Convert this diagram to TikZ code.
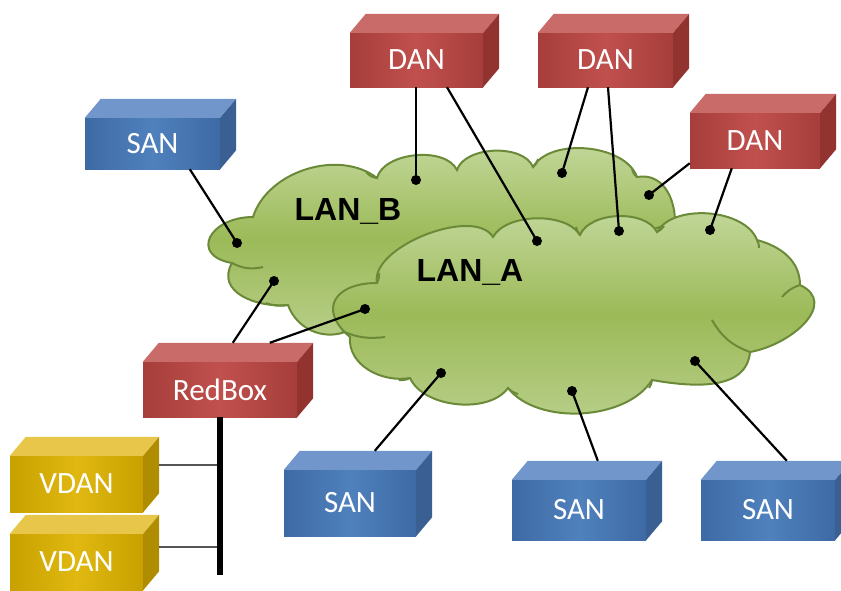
\documentclass[tikz,border=0pt]{standalone}
\usepackage{fontspec}
\setmainfont{Carlito}
\newfontfamily\arialf{Liberation Sans}
\usetikzlibrary{calc}
\definecolor{cloudT}{HTML}{C4D99E}
\definecolor{cloudM}{HTML}{9CBA58}
\definecolor{cloudB}{HTML}{B8CF8B}
\definecolor{cloudO}{HTML}{6B8A38}
\definecolor{redD}{HTML}{A63E3B}
\definecolor{redL}{HTML}{C0504D}
\definecolor{redT}{HTML}{C96C69}
\definecolor{redS}{HTML}{923330}
\definecolor{blueD}{HTML}{3E6AA4}
\definecolor{blueL}{HTML}{4F81BD}
\definecolor{blueT}{HTML}{7096CB}
\definecolor{blueS}{HTML}{3A6093}
\definecolor{yelD}{HTML}{C9A100}
\definecolor{yelL}{HTML}{E0B810}
\definecolor{yelT}{HTML}{E8C64A}
\definecolor{yelS}{HTML}{B08D00}
\definecolor{vgray}{HTML}{555555}
\newcommand\cubebox[7]{%
  \node[cubeface, minimum width=#4pt, minimum height=#5pt,
        left color=#6D, right color=#6D, middle color=#6L] (#1) at (#2,#3) {#7};
  \fill[#6T] (#1.north west) -- ++(16,-19) -- ([shift={(16pt,19pt)}]#1.north east) -- (#1.north east) -- cycle;
  \fill[#6S] (#1.north east) -- ([shift={(16pt,19pt)}]#1.north east) -- ([shift={(16pt,19pt)}]#1.south east) -- (#1.south east) -- cycle;
}
\begin{document}
\begin{tikzpicture}[x=1pt,y=-1pt,
  cloudfill/.style={draw=cloudO, line width=2pt, top color=cloudT, bottom color=cloudB, middle color=cloudM},
  deco/.style={draw=cloudO, line width=2pt},
  conn/.style={draw=black, line width=2.2pt},
  dot/.style={circle, fill=black, inner sep=0pt, minimum size=10pt},
  cubeface/.style={inner sep=0pt, text=white, font=\fontsize{31}{36}\selectfont},
  lanlabel/.style={font=\arialf\bfseries\fontsize{32}{38}\selectfont, text=black, inner sep=0pt},
  vline/.style={draw=vgray, line width=1.4pt},
  bus/.style={draw=black, line width=6.5pt}]
\useasboundingbox (0,0) rectangle (841,590);
\clip (0,0) rectangle (841,590);

% LAN_B cloud
\path[cloudfill] (232,263) to[out=170, in=180, looseness=2.2] (253,217)
  to[bend left=55, looseness=0.95] (377,178)
  to[bend left=70, looseness=0.85] (457,170)
  to[bend left=70, looseness=0.85] (533,167)
  to[bend left=65, looseness=0.85] (637,177)
  to[out=10, in=90, looseness=1.1] (675,222)
  -- (345,332)
  to[bend left=45] (288,305)
  to[out=185, in=240, looseness=1.2] cycle;
\draw[deco] (232,263) to[bend right=20] (263,267);
\draw[deco] (288,305) to[bend left=15] (266,303);
\draw[deco] (377,178) to[bend left=20] (366,172);
\draw[deco] (533,167) to[bend right=20] (538,159);
\draw[deco] (637,177) to[bend left=20] (632,169);

% LAN_A cloud
\path[cloudfill] (350,337) to[out=140, in=180, looseness=1.8] (377,283)
  to[bend left=80, looseness=0.75] (493,237)
  to[bend left=60, looseness=0.8] (580,235)
  to[bend left=65, looseness=0.85] (657,232)
  to[bend left=65, looseness=0.85] (757,240)
  to[out=-15, in=90, looseness=1] (800,285)
  to[out=-25, in=10, looseness=1.3] (750,352)
  to[out=-95, in=-10, looseness=1] (652,380)
  to[bend left=55, looseness=0.85] (508,388)
  to[bend left=60, looseness=0.85] (410,378)
  to[out=190, in=265, looseness=1] cycle;
\draw[deco] (342,331) to[bend right=15] (385,337);
\draw[deco] (750,352) to[bend left=20] (712,320);
\draw[deco] (800,285) to[bend right=15] (782,297);
\draw[deco] (410,378) to[bend left=15] (399,380);
\draw[deco] (508,388) to[bend right=15] (518,394);
\draw[deco] (652,380) to[bend left=15] (649,388);
\draw[deco] (377,283) to[bend right=15] (379,273);
\draw[deco] (580,235) to[bend left=15] (576,227);
\draw[deco] (657,232) to[bend right=15] (664,226);
\draw[deco] (757,240) to[bend left=15] (759,248);

\node[lanlabel] (lanb) at (348,211) {LAN\_B};
\node[lanlabel] (lana) at (470,272) {LAN\_A};

% dot positions
\coordinate (b1) at (416,180);
\coordinate (b2) at (562,173);
\coordinate (b3) at (649,195);
\coordinate (b4) at (237,243);
\coordinate (b5) at (274,281);
\coordinate (a0) at (365,309);
\coordinate (a1) at (537,241);
\coordinate (a2) at (619,231);
\coordinate (a3) at (710,230);
\coordinate (a4) at (441,373);
\coordinate (a5) at (572,391);
\coordinate (a6) at (695,361);

% boxes (front faces as named nodes)
\cubebox{dan1}{416.5}{60}{133}{54}{red}{DAN}
\cubebox{dan2}{605.5}{60}{135}{54}{red}{DAN}
\cubebox{dan3}{755}{140.5}{130}{55}{red}{DAN}
\cubebox{sant}{152.5}{143.5}{135}{51}{blue}{SAN}
\cubebox{rb}{220}{389.5}{154}{55}{red}{RedBox}
\cubebox{vd1}{76.5}{484}{133}{56}{yel}{VDAN}
\cubebox{vd2}{76.5}{562}{133}{56}{yel}{VDAN}
\cubebox{sb1}{350}{503}{132}{66}{blue}{SAN}
\cubebox{sb2}{579}{510}{134}{60}{blue}{SAN}
\cubebox{sb3}{768}{510}{134}{60}{blue}{SAN}

% connectors
\draw[conn] (dan1.south -| b1) -- (b1);
\draw[conn] ([xshift=30.5pt]dan1.south) -- (a1);
\draw[conn] ([xshift=-17.5pt]dan2.south) -- (b2);
\draw[conn] ([xshift=2.5pt]dan2.south) -- (a2);
\draw[conn] ([yshift=5pt]dan3.south west) -- (b3);
\draw[conn] ([xshift=42pt]dan3.south west) -- (a3);
\draw[conn] ([xshift=105pt]sant.south west) -- (b4);
\draw[conn] ([shift={(90pt,19pt)}]rb.north west) -- (b5);
\draw[conn] ([shift={(127pt,19pt)}]rb.north west) -- (a0);
\draw[conn] ([shift={(91pt,19pt)}]sb1.north west) -- (a4);
\draw[conn] ([shift={(86pt,19pt)}]sb2.north west) -- (a5);
\draw[conn] ([shift={(86pt,19pt)}]sb3.north west) -- (a6);

% dots
\foreach \d in {b1,b2,b3,b4,b5,a0,a1,a2,a3,a4,a5,a6}
  \node[dot] (\d dot) at (\d) {};

% bus and VDAN links
\coordinate (busend) at (220,575);
\coordinate (v1s) at ([shift={(16pt,19pt)}]vd1.east);
\coordinate (v2s) at ([shift={(16pt,15pt)}]vd2.east);
\draw[vline] (v1s) -- (v1s -| busend);
\draw[vline] (v2s) -- (v2s -| busend);
\draw[bus] (rb.south) -- (busend);
\end{tikzpicture}
\end{document}
